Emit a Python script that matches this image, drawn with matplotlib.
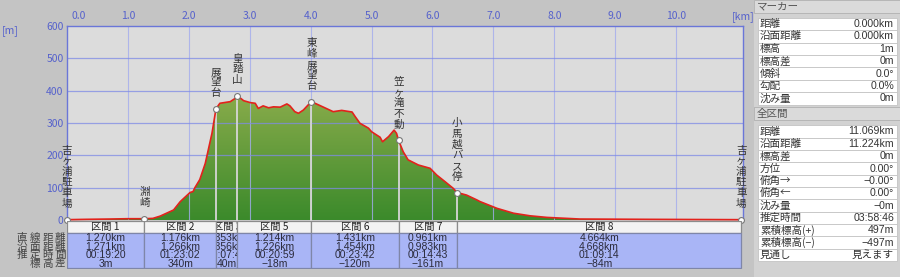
import numpy as np
import matplotlib
matplotlib.use('Agg')
import matplotlib.pyplot as plt
from matplotlib import font_manager
from matplotlib.patches import Rectangle, Polygon
from matplotlib.colors import LinearSegmentedColormap
from matplotlib.transforms import ScaledTranslation, Bbox, TransformedBbox

plt.rcParams['font.family'] = ['Noto Sans CJK JP', 'DejaVu Sans']
names = {f.name for f in font_manager.fontManager.ttflist}
num_font = 'Liberation Sans Narrow' if 'Liberation Sans Narrow' in names else 'Liberation Sans'

# elevation profile (km, m)
dist_km = [0.00, 0.30, 0.70, 1.00, 1.27, 1.41, 1.53, 1.75, 1.86, 2.02, 2.07, 2.10, 2.18, 2.27, 2.38,
           2.446, 2.51, 2.68, 2.76, 2.799, 2.90, 3.01, 3.09, 3.14, 3.22, 3.31, 3.39, 3.50, 3.61,
           3.66, 3.74, 3.80, 3.88, 3.96, 4.013, 4.21, 4.37, 4.51, 4.68, 4.73, 4.81, 4.95, 5.00,
           5.14, 5.18, 5.28, 5.37, 5.41, 5.444, 5.52, 5.60, 5.77, 5.96, 6.07, 6.21, 6.34, 6.405,
           6.56, 6.73, 6.78, 7.06, 7.33, 7.60, 7.88, 8.42, 9.57, 11.069]
elev_m = [1, 2, 3, 4, 4, 5, 12, 31, 57, 85, 88, 100, 125, 175, 268,
          344, 361, 366, 376, 384, 369, 363, 361, 345, 353, 347, 350, 349, 359,
          353, 335, 330, 340, 356, 366, 349, 335, 339, 334, 320, 299, 284, 273,
          256, 242, 258, 278, 268, 246, 211, 186, 170, 160, 139, 118, 98, 85,
          77, 62, 57, 36, 21, 13, 8, 3, 2, 1]

marker_names = ['吉ヶ浦駐車場', '淵崎', '展望台', '皇踏山', '東峰展望台', '笠ヶ滝不動', '小馬越バス停', '吉ヶ浦駐車場']
marker_m = [1, 4, 344, 384, 366, 246, 85, 1]

# sections
sec_names = ['区間 1', '区間 2', '区間 3', '区間 5', '区間 6', '区間 7', '区間 8']
sec_dist = [1.270, 1.176, 0.353, 1.214, 1.431, 0.961, 4.664]
sec_surf = [1.271, 1.266, 0.356, 1.226, 1.454, 0.983, 4.668]
sec_time = ['00:19:20', '01:23:02', '00:07:48', '00:20:59', '00:23:42', '00:14:43', '01:09:14']
sec_elev = ['3m', '340m', '40m', '−18m', '−120m', '−161m', '−84m']
row_labels = ['直線距離', '沿面距離', '推定時間', '標高差']

x_ticks = [0, 1, 2, 3, 4, 5, 6, 7, 8, 9, 10]
y_ticks = [0, 100, 200, 300, 400, 500, 600]

# side panel
marker_keys = ['距離', '沿面距離', '標高', '標高差', '傾斜', '勾配', '沈み量']
marker_vals = ['0.000km', '0.000km', '1m', '0m', '0.0°', '0.0%', '0m']
total_keys = ['距離', '沿面距離', '標高差', '方位', '俯角→', '俯角←', '沈み量', '推定時間',
              '累積標高(+)', '累積標高(−)', '見通し']
total_vals = ['11.069km', '11.224km', '0m', '0.00°', '−0.00°', '0.00°', '−0m', '03:58:46',
              '497m', '−497m', '見えます']

bounds = np.concatenate([[0], np.cumsum(sec_dist)])
W, H = 900, 277
blue = '#5561cc'
xmax = 11.09

fig = plt.figure(figsize=(9, 2.77), dpi=100, facecolor='#c4c4c4')
ax = fig.add_axes([67 / W, 57 / H, 675.5 / W, 194 / H])
ax.set_facecolor('#dcdcdc')

# gradient fill under profile
verts = list(zip(dist_km, elev_m)) + [(dist_km[-1], 0), (0, 0)]
poly = Polygon(verts, closed=True, fc='none', ec='none')
ax.add_patch(poly)
cmap = LinearSegmentedColormap.from_list('g', ['#3b8a2b', '#8aac4b'])
grad = np.linspace(0, 1, 256).reshape(-1, 1)
im = ax.imshow(grad, extent=[0, dist_km[-1], 0, 390], origin='lower', cmap=cmap,
               aspect='auto', zorder=1)
im.set_clip_path(poly)

for k in x_ticks[1:]:
    ax.axvline(k, color='#a3acee', lw=0.8, alpha=0.8, zorder=2)
for v in y_ticks[1:-1]:
    ax.axhline(v, color='#7f8be6', lw=0.9, alpha=0.75, zorder=2)

# marker lines and labels
for km, m, name in zip(bounds, marker_m, marker_names):
    ax.plot([km, km], [0, m], color='#d6d6d6', lw=1.3, zorder=3, clip_on=False)
    ax.annotate('\n'.join(name), (km, m), xytext=(0, 11), textcoords='offset pixels',
                ha='center', va='bottom', fontsize=7.6, linespacing=1.07, color='#333333',
                zorder=7, annotation_clip=False)

ax.plot(dist_km, elev_m, color='#e3221c', lw=1.2, zorder=5, clip_on=False)
ax.plot(bounds, marker_m, 'o', ms=4.2, mfc='white', mec='#777777', mew=0.8, zorder=6,
        clip_on=False)

ax.set_xlim(0, xmax)
ax.set_ylim(0, 600)
ax.xaxis.tick_top()
ax.set_xticks(x_ticks)
ax.set_xticklabels([f'{k:.1f}' for k in x_ticks])
ax.set_yticks(y_ticks)
ax.set_yticklabels([str(v) for v in y_ticks])
ax.tick_params(length=0, labelcolor=blue, labelsize=7.5)
ax.tick_params(axis='x', pad=3.5)
ax.tick_params(axis='y', pad=2.5)
first = ax.get_xticklabels()[0]
first.set_ha('left')
first.set_transform(first.get_transform() + ScaledTranslation(5 / 100, 0, fig.dpi_scale_trans))
for s in ['top', 'left', 'right']:
    ax.spines[s].set_color('#6a76d8')
    ax.spines[s].set_linewidth(1.0)
ax.spines['bottom'].set_visible(False)

# section table
tb = fig.add_axes([67 / W, (H - 268.5) / H, 675.5 / W, (268.5 - 220.5) / H])
tb.set_xlim(0, xmax)
tb.set_ylim(268.5, 220.5)
tb.axis('off')
row_y = [238.0, 246.6, 255.2, 263.8]
for i in range(len(sec_names)):
    x0, x1 = bounds[i], bounds[i + 1]
    head = Rectangle((x0, 221), x1 - x0, 12.3, fc='#f3f3f3', ec='#8c8c8c', lw=0.9)
    body = Rectangle((x0, 233.3), x1 - x0, 35, fc='#a9b5f6', ec='#7f86a8', lw=0.9)
    tb.add_patch(head)
    tb.add_patch(body)
    cell_clip = TransformedBbox(Bbox([[x0 + 0.01, 220.5], [x1 - 0.01, 268.5]]), tb.transData)
    xc = (x0 + x1) / 2
    t = tb.text(xc, 227.3, sec_names[i], ha='center', va='center', fontsize=7.4,
                color='#222222')
    t.set_clip_path(None)
    t.set_clip_box(cell_clip)
    t.set_clip_on(True)
    vals = [f'{sec_dist[i]:.3f}km', f'{sec_surf[i]:.3f}km', sec_time[i], sec_elev[i]]
    for y, v in zip(row_y, vals):
        t = tb.text(xc, y, v, ha='center', va='center', fontsize=7.5, color='#2a2a3a',
                    family=[num_font, 'DejaVu Sans'])
        t.set_clip_path(None)
        t.set_clip_box(cell_clip)
        t.set_clip_on(True)

# overlay in pixel coordinates
ov = fig.add_axes([0, 0, 1, 1], zorder=-1)
ov.set_xlim(0, W)
ov.set_ylim(H, 0)
ov.axis('off')

col_x = [22, 34.5, 47.5, 60]
for y, lab in zip(row_y, row_labels):
    for c, ch in zip(col_x[4 - len(lab):], lab):
        ov.text(c, y, ch, ha='center', va='center', fontsize=7.6, color='#444444')

fig.text(10 / W, 1 - 31 / H, '[m]', ha='center', va='center', fontsize=7.5, color=blue)
fig.text(743 / W, 1 - 17 / H, '[km]', ha='center', va='center', fontsize=7.5, color=blue)

# side panel
ov.add_patch(Rectangle((754, 0), 146, H, fc='#d2d2d2', ec='none'))


def panel(y_head, title, keys, vals, y0, step):
    ov.add_patch(Rectangle((754, y_head), 146, 13, fc='#dadada', ec='#b0b0b0', lw=0.6))
    ov.text(757, y_head + 6.5, title, ha='left', va='center', fontsize=7.6, color='#555555')
    for j, (k, v) in enumerate(zip(keys, vals)):
        yc = y0 + j * step
        ov.add_patch(Rectangle((758, yc - step / 2), 139, step, fc='white', ec='#c4c4c4', lw=0.6))
        ov.text(760, yc, k, ha='left', va='center', fontsize=7.6, color='#333333')
        ov.text(894, yc, v, ha='right', va='center', fontsize=7.6, color='#333333',
                family=[num_font, 'Noto Sans CJK JP', 'DejaVu Sans'])


panel(0, 'マーカー', marker_keys, marker_vals, 24, 12.4)
panel(107, '全区間', total_keys, total_vals, 131.5, 12.35)

fig.savefig('out.png', dpi=100, facecolor=fig.get_facecolor())
